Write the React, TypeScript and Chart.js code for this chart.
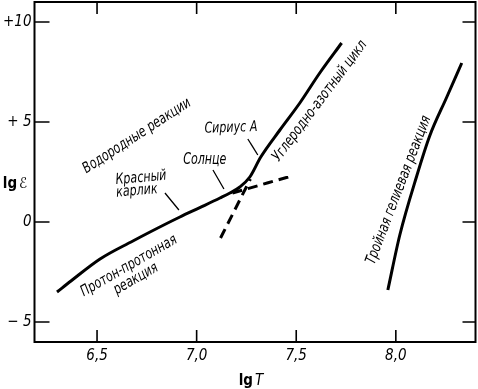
import React, { useEffect, useRef } from "react";
import { Chart, registerables } from "chart.js";

Chart.register(...registerables);

// ---- data (lg T, lg ε) ----
const ppCnoCurve = [
  [6.299, -3.5], [6.369, -2.95], [6.515, -1.85], [6.68, -0.95], [6.766, -0.5],
  [6.916, 0.25], [7.016, 0.72], [7.117, 1.2], [7.167, 1.45], [7.217, 1.75],
  [7.267, 2.25], [7.322, 3.25], [7.418, 4.6], [7.518, 5.95], [7.618, 7.45], [7.728, 8.95],
];
const cnoDashed = [[7.12, -0.8], [7.27, 2.15]];
const ppDashed = [[7.18, 1.45], [7.46, 2.25]];
const tripleAlpha = [
  [7.96, -3.4], [8.02, -0.65], [8.105, 2.3], [8.17, 4.3], [8.256, 6.25], [8.331, 7.95],
];
const leaderRedDwarf = [[6.841, 1.45], [6.911, 0.6]];
const leaderSun = [[7.082, 2.6], [7.137, 1.65]];
const leaderSirius = [[7.257, 4.15], [7.307, 3.35]];

const xTicks = [6.5, 7.0, 7.5, 8.0];
const xTickLabels = ["6,5", "7,0", "7,5", "8,0"];
const yTicks = [-5, 0, 5, 10];
const yTickLabels = ["\u2212 5", "0", "+ 5", "+10"];

const annotations = [
  { text: "Водородные реакции", x: 6.7, y: 4.3, rot: -33 },
  { text: "Красный", x: 6.721, y: 2.2, rot: -5 },
  { text: "карлик", x: 6.7, y: 1.55, rot: -5 },
  { text: "Солнце", x: 7.041, y: 3.1, rot: 0 },
  { text: "Сириус А", x: 7.172, y: 4.7, rot: -2 },
  { text: "Углеродно-азотный цикл", x: 7.619, y: 6.05, rot: -53 },
  { text: "Протон-протонная", x: 6.66, y: -2.2, rot: -30 },
  { text: "реакция", x: 6.695, y: -2.85, rot: -30 },
  { text: "Тройная гелиевая реакция", x: 8.015, y: 1.6, rot: -69 },
];

const FONT = '"DejaVu Sans Condensed", "DejaVu Sans", sans-serif';
const toPts = (a: number[][]) => a.map(([x, y]) => ({ x, y }));

export default function App() {
  const ref = useRef<HTMLCanvasElement | null>(null);
  useEffect(() => {
    if (!ref.current) return;
    const lineDs = (data: number[][], width: number, dash: number[] = []) => ({
      data: toPts(data),
      borderColor: "#000",
      borderWidth: width,
      borderDash: dash,
      pointRadius: 0,
      cubicInterpolationMode: "monotone" as const,
      fill: false,
      borderCapStyle: "butt" as const,
    });

    const zeroPad = (s: any) => {
      s.paddingTop = 0; s.paddingBottom = 0; s.paddingLeft = 0; s.paddingRight = 0;
    };

    const framePlugin = {
      id: "frameAndText",
      afterDatasetsDraw(chart: any) {
        const { ctx, chartArea: a, scales } = chart;
        const xs = scales.x, ys = scales.y;
        ctx.save();
        ctx.strokeStyle = "#000";
        ctx.lineWidth = 2;
        ctx.strokeRect(a.left, a.top, a.right - a.left, a.bottom - a.top);
        ctx.lineWidth = 1.6;
        xTicks.forEach((v) => {
          const px = xs.getPixelForValue(v);
          ctx.beginPath();
          ctx.moveTo(px, a.bottom); ctx.lineTo(px, a.bottom - 12);
          ctx.moveTo(px, a.top); ctx.lineTo(px, a.top + 12);
          ctx.stroke();
        });
        yTicks.forEach((v) => {
          const py = ys.getPixelForValue(v);
          ctx.beginPath();
          ctx.moveTo(a.left, py); ctx.lineTo(a.left + 15, py);
          ctx.moveTo(a.right, py); ctx.lineTo(a.right - 13, py);
          ctx.stroke();
        });
        ctx.fillStyle = "#000";
        ctx.textAlign = "center";
        ctx.textBaseline = "middle";
        annotations.forEach((t) => {
          ctx.save();
          ctx.translate(xs.getPixelForValue(t.x), ys.getPixelForValue(t.y));
          ctx.rotate((t.rot * Math.PI) / 180);
          ctx.scale(0.82, 1);
          ctx.font = `italic 15px ${FONT}`;
          ctx.fillText(t.text, 0, 0);
          ctx.restore();
        });
        // axis titles
        const drawTitle = (cx: number, cy: number, main: string, sym: string) => {
          ctx.font = `bold 15px ${FONT}`;
          const w1 = ctx.measureText(main).width;
          ctx.font = `italic 15px ${FONT}`;
          const w2 = ctx.measureText(sym).width;
          const x0 = cx - (w1 + w2 + 2) / 2;
          ctx.textAlign = "left";
          ctx.font = `bold 15px ${FONT}`;
          ctx.fillText(main, x0, cy);
          ctx.font = `italic 15px ${FONT}`;
          ctx.fillText(sym, x0 + w1 + 2, cy);
        };
        drawTitle(15, 184, "lg", "ℰ");
        drawTitle(251, 381, "lg", "T");
        ctx.restore();
      },
    };

    const chart = new Chart(ref.current, {
      type: "line",
      data: {
        datasets: [
          lineDs(ppCnoCurve, 3),
          lineDs(cnoDashed, 3, [10, 6]),
          lineDs(ppDashed, 3, [10, 6]),
          lineDs(tripleAlpha, 3),
          lineDs(leaderRedDwarf, 1.3),
          lineDs(leaderSun, 1.3),
          lineDs(leaderSirius, 1.3),
        ],
      },
      options: {
        responsive: false,
        animation: false,
        layout: { padding: { top: 2, right: 2.5, left: 0, bottom: 0 } },
        plugins: { legend: { display: false }, tooltip: { enabled: false }, title: { display: false } },
        scales: {
          x: {
            type: "linear",
            min: 6.186,
            max: 8.4,
            afterBuildTicks: (s: any) => { s.ticks = xTicks.map((v) => ({ value: v })); },
            afterFit: (s: any) => { s.height = 47; zeroPad(s); },
            grid: { display: false, drawTicks: false },
            border: { display: false },
            ticks: {
              autoSkip: false,
              maxRotation: 0,
              padding: 5,
              color: "#000",
              font: { family: FONT, style: "italic", size: 15 },
              callback: (v: any) => xTickLabels[xTicks.indexOf(Number(v))] ?? "",
            },
          },
          y: {
            type: "linear",
            min: -6,
            max: 11,
            afterBuildTicks: (s: any) => { s.ticks = yTicks.map((v) => ({ value: v })); },
            afterFit: (s: any) => { s.width = 34.5; zeroPad(s); },
            grid: { display: false, drawTicks: false },
            border: { display: false },
            ticks: {
              autoSkip: false,
              padding: 3,
              color: "#000",
              font: { family: FONT, style: "italic", size: 15 },
              callback: (v: any) => yTickLabels[yTicks.indexOf(Number(v))] ?? "",
            },
          },
        },
      },
      plugins: [framePlugin],
    });
    return () => chart.destroy();
  }, []);

  return (
    <div style={{ position: "fixed", left: 0, top: 0, width: 478, height: 389, background: "#fff" }}>
      <canvas ref={ref} width={478} height={389} />
    </div>
  );
}
